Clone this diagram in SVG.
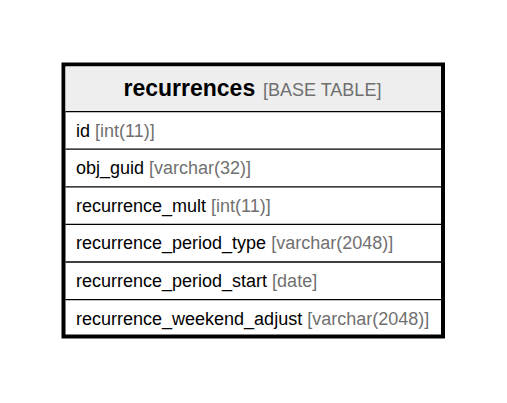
<svg xmlns="http://www.w3.org/2000/svg" width="507" height="403" viewBox="0 0 507 403">
  <style>
    .name { font-family: "Liberation Sans", Arial, sans-serif; font-size: 18px; fill: #000000; }
    .type { fill: #707070; }
    .title { font-family: "Liberation Sans", Arial, sans-serif; font-size: 23px; font-weight: bold; fill: #000000; }
    .title-type { font-family: "Liberation Sans", Arial, sans-serif; font-size: 18px; fill: #707070; }
    .sep { stroke: #000000; stroke-width: 1.3; }
  </style>
  <rect width="507" height="403" fill="#ffffff"/>
  <g id="recurrences">
    <!-- table frame -->
    <rect x="63.5" y="64.5" width="379.5" height="272" fill="#ffffff" stroke="#000000" stroke-width="4"/>
    <!-- header -->
    <rect x="65.5" y="66.5" width="375.5" height="45" fill="#eeeeee"/>
    <text class="title" x="123.5" y="96">recurrences</text>
    <text class="title-type" x="263" y="96">[BASE TABLE]</text>
    <!-- row separators -->
    <line class="sep" x1="65.5" y1="111.6" x2="441" y2="111.6"/>
    <line class="sep" x1="65.5" y1="149.2" x2="441" y2="149.2"/>
    <line class="sep" x1="65.5" y1="186.8" x2="441" y2="186.8"/>
    <line class="sep" x1="65.5" y1="224.4" x2="441" y2="224.4"/>
    <line class="sep" x1="65.5" y1="262" x2="441" y2="262"/>
    <line class="sep" x1="65.5" y1="299.6" x2="441" y2="299.6"/>
    <!-- columns -->
    <text class="name" x="76" y="136.6">id <tspan class="type">[int(11)]</tspan></text>
    <text class="name" x="76" y="174.2">obj_guid <tspan class="type">[varchar(32)]</tspan></text>
    <text class="name" x="76" y="211.8">recurrence_mult <tspan class="type">[int(11)]</tspan></text>
    <text class="name" x="76" y="249.4">recurrence_period_type <tspan class="type">[varchar(2048)]</tspan></text>
    <text class="name" x="76" y="287">recurrence_period_start <tspan class="type">[date]</tspan></text>
    <text class="name" x="76" y="324.6">recurrence_weekend_adjust <tspan class="type">[varchar(2048)]</tspan></text>
  </g>
  <g id="connectors"/>
</svg>
